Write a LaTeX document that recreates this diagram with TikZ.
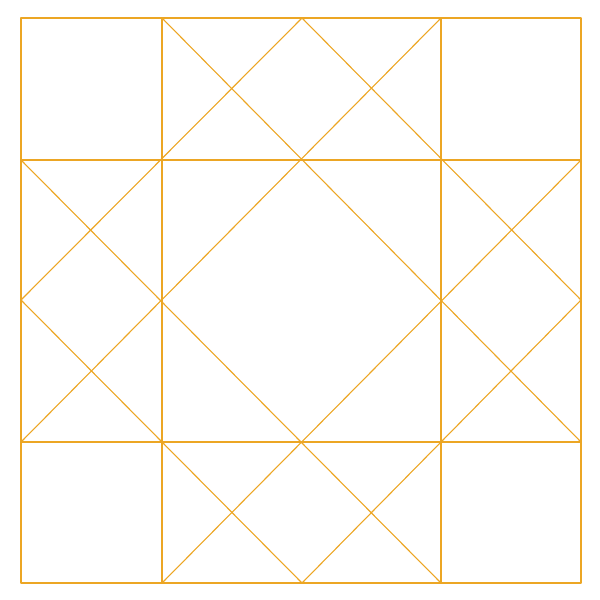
\documentclass[tikz,border=0pt]{standalone}
\usepackage{tikz}

\definecolor{thread}{RGB}{236,166,36}

\begin{document}
\begin{tikzpicture}[x=1pt, y=-1pt,
    seam/.style={draw=thread, line width=1.1pt, line cap=round, line join=round}]
            \useasboundingbox (0,0) rectangle (600,600);
            % grid points of the block
            \foreach \c/\x in {a/21, b/162, m/302, c/441, d/581}
              \foreach \r/\y in {1/18, 2/160, h/300, 3/442, 4/583}
                \coordinate (\c\r) at (\x,\y);

            % outer square and the nine-patch seams
            \draw[seam] (a1) rectangle (d4);
            \draw[seam] (b1) -- (b4);
            \draw[seam] (c1) -- (c4);
            \draw[seam] (a2) -- (d2);
            \draw[seam] (a3) -- (d3);

            % big diamond
            \draw[seam] (m1) -- (ah) -- (m4) -- (dh) -- cycle;

            % long diagonals
            \draw[seam] (b1) -- (d3);
            \draw[seam] (c1) -- (a3);
            \draw[seam] (a2) -- (c4);
            \draw[seam] (d2) -- (b4);
        \end{tikzpicture}
\end{document}
